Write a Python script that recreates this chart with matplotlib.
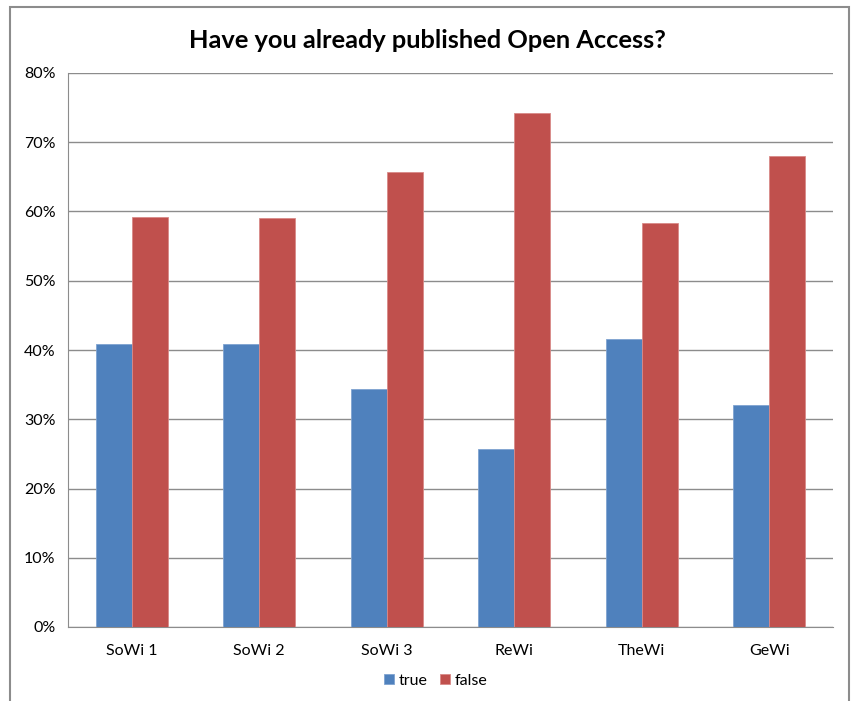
import matplotlib.pyplot as plt
import numpy as np
from matplotlib.patches import Rectangle
from matplotlib.ticker import PercentFormatter

plt.rcParams['font.family'] = ['Lato', 'DejaVu Sans']

categories = ['SoWi 1', 'SoWi 2', 'SoWi 3', 'ReWi', 'TheWi', 'GeWi']
true_vals = [40.8, 40.9, 34.3, 25.7, 41.6, 32.0]
false_vals = [59.2, 59.1, 65.7, 74.2, 58.3, 68.0]

blue = '#4F81BD'
red = '#C0504D'

fig = plt.figure(figsize=(8.54, 7.01), dpi=100)
# outer chart frame
fig.patches.append(Rectangle((10 / 854, -0.01), 839 / 854, 1 - 7 / 701 + 0.01,
                             transform=fig.transFigure, fill=False,
                             edgecolor='#8c8c8c', linewidth=1.5))

ax = fig.add_axes([68 / 854, 1 - 627 / 701, (833 - 68) / 854, (627 - 73) / 701])

x = np.arange(len(categories))
w = 0.283
ax.bar(x - w / 2, true_vals, w, color=blue, edgecolor='#7fa3d0', linewidth=0.6,
       label='true', zorder=3)
ax.bar(x + w / 2, false_vals, w, color=red, edgecolor='#d98a88', linewidth=0.6,
       label='false', zorder=3)

ax.set_xlim(-0.5, len(categories) - 0.5)
ax.set_ylim(0, 80)
ax.set_yticks(np.arange(0, 81, 10))
ax.yaxis.set_major_formatter(PercentFormatter(decimals=0))
ax.set_xticks(x)
ax.set_xticklabels(categories)
ax.tick_params(axis='both', length=0, labelsize=11.5, colors='black')
ax.tick_params(axis='y', pad=9)
ax.tick_params(axis='x', pad=12)

ax.grid(axis='y', color='#8c8c8c', linewidth=1, zorder=0)
for s in ['top', 'right']:
    ax.spines[s].set_visible(False)
ax.spines['left'].set_color('#8c8c8c')
ax.spines['bottom'].set_color('#8c8c8c')

fig.text(427 / 854, 1 - 40 / 701, 'Have you already published Open Access?',
         ha='center', va='center', fontsize=18.3, fontweight='bold')

fig.legend(loc='center', bbox_to_anchor=(436 / 854, 1 - 681 / 701), ncol=2,
           frameon=False, fontsize=11.5, handlelength=0.6, handleheight=0.6,
           handletextpad=0.3, columnspacing=0.8)

fig.savefig('out.png', dpi=100)
